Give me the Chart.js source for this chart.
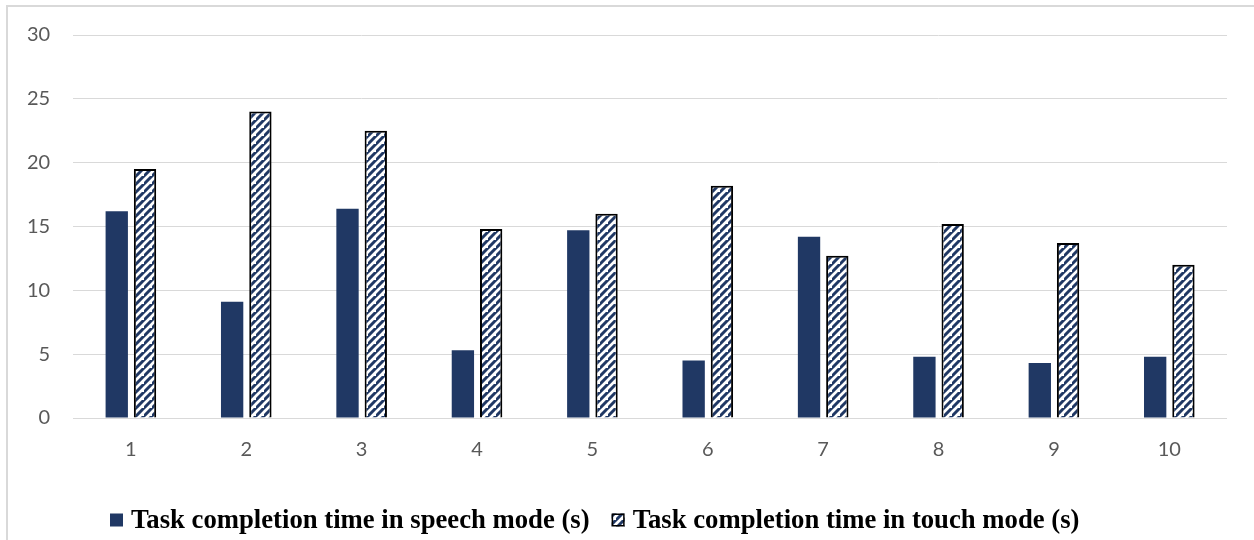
<!DOCTYPE html>
<html>
<head>
<meta charset="utf-8">
<script src="https://cdn.jsdelivr.net/npm/chart.js@4/dist/chart.umd.min.js"></script>
<style>
  html, body { margin: 0; padding: 0; background: #ffffff; }
  #frame {
    position: absolute; left: 6px; top: 5px; width: 1260px; height: 560px;
    border-left: 2px solid #d9d9d9; border-top: 2px solid #d9d9d9; box-sizing: border-box;
  }
  #wrap { position: absolute; left: 0; top: 0; width: 1254px; height: 540px; }
</style>
</head>
<body>
<div id="frame"></div>
<div id="wrap"><canvas id="c" width="1254" height="540"></canvas></div>
<script>
// Task numbers along the x axis
const categories = ['1', '2', '3', '4', '5', '6', '7', '8', '9', '10'];
// Completion times in seconds
const speechTimes = [16.2, 9.1, 16.4, 5.3, 14.7, 4.5, 14.2, 4.8, 4.3, 4.8];
const touchTimes  = [19.5, 24.0, 22.5, 14.8, 16.0, 18.2, 12.7, 15.2, 13.7, 12.0];
// Series names
const seriesNames = ['Task completion time in speech mode (s)', 'Task completion time in touch mode (s)'];
// Y axis range
const yMin = 0, yMax = 30, yStep = 5;

const NAVY = '#203864';
const TICK_FONT = { family: 'Lato, "Open Sans", sans-serif', size: 20 };

// Diagonal "/" hatch tile: navy stripes on white
function makeHatch() {
  const s = 8;
  const t = document.createElement('canvas');
  t.width = s; t.height = s;
  const g = t.getContext('2d');
  g.fillStyle = '#ffffff';
  g.fillRect(0, 0, s, s);
  g.strokeStyle = NAVY;
  g.lineWidth = 3;
  g.beginPath();
  g.moveTo(-1, s + 1); g.lineTo(s + 1, -1);
  g.moveTo(-1 - s, s + 1); g.lineTo(1, -1);
  g.moveTo(s - 1, 2 * s + 1); g.lineTo(2 * s + 1, s - 1);
  g.stroke();
  return g.createPattern(t, 'repeat');
}
const hatch = makeHatch();

// Legend row drawn under the axis: a swatch then the series name, per dataset
const bottomLegend = {
  id: 'bottomLegend',
  afterDraw(chart) {
    const ctx = chart.ctx;
    const box = 13, gapText = 8, gapItem = 22;
    const y = 520;
    let x = 110;
    ctx.save();
    ctx.font = 'bold 26.7px "Liberation Serif", "Times New Roman", serif';
    ctx.textBaseline = 'middle';
    ctx.textAlign = 'left';
    chart.data.datasets.forEach(ds => {
      ctx.fillStyle = ds.backgroundColor;
      ctx.fillRect(x, y - box / 2, box, box);
      if (ds.borderWidth) {
        ctx.strokeStyle = ds.borderColor;
        ctx.lineWidth = 1.5;
        ctx.strokeRect(x + 0.75, y - box / 2 + 0.75, box - 1.5, box - 1.5);
      }
      x += box + gapText;
      ctx.fillStyle = '#000000';
      ctx.fillText(ds.label, x, y + 1);
      x += ctx.measureText(ds.label).width + gapItem;
    });
    ctx.restore();
  }
};

new Chart(document.getElementById('c'), {
  type: 'bar',
  data: {
    labels: categories,
    datasets: [
      {
        label: seriesNames[0],
        data: speechTimes,
        backgroundColor: NAVY,
        borderWidth: 0,
        barPercentage: 0.79,
        categoryPercentage: 0.49
      },
      {
        label: seriesNames[1],
        data: touchTimes,
        backgroundColor: hatch,
        borderColor: '#000000',
        borderWidth: 2,
        barPercentage: 0.79,
        categoryPercentage: 0.49
      }
    ]
  },
  plugins: [bottomLegend],
  options: {
    responsive: false,
    animation: false,
    devicePixelRatio: 1,
    layout: { padding: { left: 4, right: 27, top: 30, bottom: 66 } },
    plugins: {
      tooltip: { enabled: false },
      legend: { display: false }
    },
    scales: {
      x: {
        grid: { display: false },
        border: { display: false },
        ticks: { color: '#595959', padding: 12, font: TICK_FONT }
      },
      y: {
        min: yMin,
        max: yMax,
        grid: { color: '#d9d9d9', lineWidth: 1, drawTicks: false },
        border: { display: false },
        ticks: { stepSize: yStep, color: '#595959', padding: 23, font: TICK_FONT }
      }
    }
  }
});
</script>
</body>
</html>
